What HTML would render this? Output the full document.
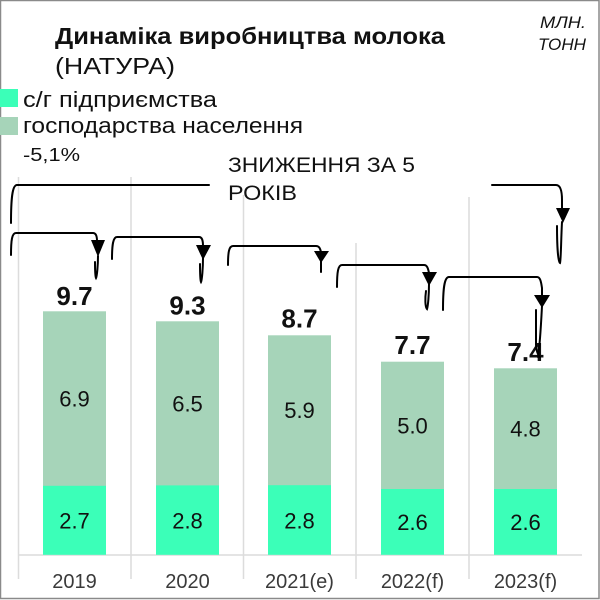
<!DOCTYPE html>
<html>
<head>
<meta charset="utf-8">
<style>
  html, body { margin: 0; padding: 0; background: #fff; }
  svg { display: block; }
  text { font-family: "Liberation Sans", "DejaVu Sans", sans-serif; }
</style>
</head>
<body>
<svg width="600" height="600" viewBox="0 0 600 600" xmlns="http://www.w3.org/2000/svg">
  <rect x="0" y="0" width="600" height="600" fill="#fff"/>
  <rect x="0.5" y="0.5" width="598.5" height="598" fill="none" stroke="#8a8a8a" stroke-width="1.5"/>

  <!-- grid lines -->
  <g stroke="#dcdcdc" stroke-width="1.5">
    <line x1="18.5" y1="177" x2="18.5" y2="579"/>
    <line x1="131" y1="177" x2="131" y2="579"/>
    <line x1="243.5" y1="195" x2="243.5" y2="579"/>
    <line x1="356" y1="243" x2="356" y2="579"/>
    <line x1="469" y1="197" x2="469" y2="579"/>
    <line x1="18" y1="555" x2="582" y2="555"/>
  </g>

  <!-- bars: upper (households) -->
  <g fill="#a6d4b9">
    <rect x="43" y="311.3" width="63" height="174.7"/>
    <rect x="156" y="321.3" width="63" height="164.5"/>
    <rect x="268" y="335.3" width="63" height="150.2"/>
    <rect x="381" y="361.7" width="63" height="127.8"/>
    <rect x="494" y="368.3" width="63" height="121.2"/>
  </g>
  <!-- bars: lower (enterprises) -->
  <g fill="#3bffb8">
    <rect x="43" y="485.8" width="63" height="69"/>
    <rect x="156" y="485.4" width="63" height="69.4"/>
    <rect x="268" y="485.2" width="63" height="69.6"/>
    <rect x="381" y="489" width="63" height="65.8"/>
    <rect x="494" y="489" width="63" height="65.8"/>
  </g>

  <!-- inner labels -->
  <g font-size="22" fill="#111" text-anchor="middle">
    <text x="74.5" y="406.5">6.9</text>
    <text x="187.5" y="411.3">6.5</text>
    <text x="299.5" y="418">5.9</text>
    <text x="412.5" y="433.3">5.0</text>
    <text x="525.5" y="436.5">4.8</text>
    <text x="74.5" y="528.5">2.7</text>
    <text x="187.5" y="528.3">2.8</text>
    <text x="299.5" y="528.3">2.8</text>
    <text x="412.5" y="530">2.6</text>
    <text x="525.5" y="530">2.6</text>
  </g>

  <!-- totals -->
  <g font-size="26" font-weight="bold" fill="#111" text-anchor="middle">
    <text x="74.5" y="305">9.7</text>
    <text x="187.5" y="314.3">9.3</text>
    <text x="299.5" y="327.3">8.7</text>
    <text x="412.5" y="354">7.7</text>
    <text x="525.5" y="361">7.4</text>
  </g>

  <!-- x labels -->
  <g font-size="20" fill="#3a3a3a" text-anchor="middle">
    <text x="74.5" y="588">2019</text>
    <text x="187.5" y="588">2020</text>
    <text x="299.5" y="588">2021(e)</text>
    <text x="412.5" y="588">2022(f)</text>
    <text x="525.5" y="588">2023(f)</text>
  </g>

  <!-- title -->
  <text x="55" y="44" font-size="23" font-weight="bold" fill="#111" textLength="390" lengthAdjust="spacingAndGlyphs">Динаміка виробництва молока</text>
  <text x="55" y="74" font-size="23" fill="#111" textLength="120" lengthAdjust="spacingAndGlyphs">(НАТУРА)</text>
  <text x="540" y="28" font-size="17" font-style="italic" fill="#111" textLength="46" lengthAdjust="spacingAndGlyphs">МЛН.</text>
  <text x="538" y="50" font-size="17" font-style="italic" fill="#111" textLength="48" lengthAdjust="spacingAndGlyphs">ТОНН</text>

  <!-- legend -->
  <rect x="0" y="89" width="18" height="18" fill="#3bffb8"/>
  <rect x="0" y="117" width="18" height="18" fill="#a6d4b9"/>
  <text x="23" y="107" font-size="22" fill="#111" textLength="194" lengthAdjust="spacingAndGlyphs">с/г підприємства</text>
  <text x="23" y="133" font-size="22" fill="#111" textLength="280" lengthAdjust="spacingAndGlyphs">господарства населення</text>
  <text x="23" y="161" font-size="18" fill="#111" textLength="57" lengthAdjust="spacingAndGlyphs">-5,1%</text>

  <text x="228" y="172" font-size="21" fill="#111" textLength="187" lengthAdjust="spacingAndGlyphs">ЗНИЖЕННЯ ЗА 5</text>
  <text x="228" y="200" font-size="21" fill="#111" textLength="69" lengthAdjust="spacingAndGlyphs">РОКІВ</text>

  <!-- arrows -->
  <g stroke="#000" stroke-width="2" fill="none" stroke-linecap="round">
    <!-- big arrow -->
    <path d="M11,223 C11,200 12,185 17,185 L209,185"/>
    <path d="M492,185 L556,185 C560,185 562,190 562,200 L562,210"/>
    <path d="M562,222 C561,240 561,260 560,263 C558,262 557,245 557,226"/>
    <!-- arrow 1 -->
    <path d="M11,255 C11,240 12,233 16,233 L93,233 C96,233 97,236 97,241"/>
    <path d="M98,256 C98,265 97,276 96,278 C95,276 95,268 95,262"/>
    <!-- arrow 2 -->
    <path d="M112,259 C112,245 113,237 117,237 L199,237 C202,237 203,240 203,246"/>
    <path d="M203,258 C203,268 202,280 201,282 C200,280 200,272 200,264"/>
    <!-- arrow 3 -->
    <path d="M228,265 C228,252 229,246 233,246 L316,246 C319,246 320,248 321,252"/>
    <path d="M321,260 L321,272"/>
    <!-- arrow 4 -->
    <path d="M337,287 C337,272 338,265 342,265 L424,265 C427,265 428,268 429,273"/>
    <path d="M429,284 C429,295 428,306 427,309 C425,307 425,298 426,291"/>
    <!-- arrow 5 -->
    <path d="M443,310 C443,290 444,277 449,277 L537,277 C540,277 541,281 542,288 L542,296"/>
    <path d="M542,306 C541,325 540,345 538,357"/>
    <path d="M536,310 L536,345 C536,350 538,355 540,357"/>
  </g>
  <g fill="#000">
    <polygon points="556,208 570,208 563,223"/>
    <polygon points="91,240 105,240 98,257"/>
    <polygon points="196,245 211,245 203,260"/>
    <polygon points="314,251 329,251 321,263"/>
    <polygon points="422,272 437,272 429,286"/>
    <polygon points="534,295 550,295 542,308"/>
  </g>
</svg>
</body>
</html>
